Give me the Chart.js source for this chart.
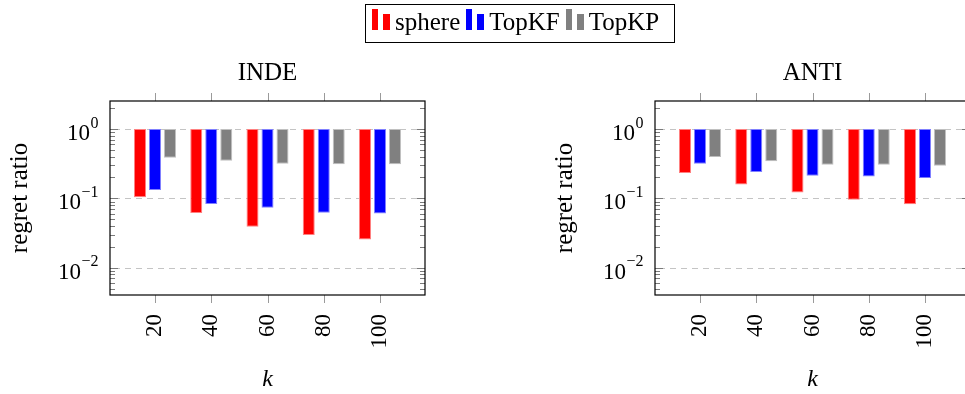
<!DOCTYPE html>
<html>
<head>
<meta charset="utf-8">
<script src="https://cdn.jsdelivr.net/npm/chart.js@4.4.0/dist/chart.umd.min.js"></script>
<style>
html,body{margin:0;padding:0;width:965px;height:394px;overflow:hidden;background:#fff;}
#wrap{position:relative;width:965px;height:394px;overflow:hidden;}
canvas{position:absolute;top:0;}
#c1{left:0;}
#c2{left:545px;}
#legend{position:absolute;left:365px;top:4px;width:310px;height:39px;box-sizing:border-box;border:1px solid #000;
  padding:2.5px 0 0 6px;font-family:'Liberation Serif';font-size:25px;line-height:28px;white-space:nowrap;color:#000;}
.bar{display:inline-block;vertical-align:baseline;}
</style>
</head>
<body>
<div id="wrap">
  <canvas id="c1" width="535" height="394"></canvas>
  <canvas id="c2" width="535" height="394"></canvas>
  <div id="legend"></div>
</div>
<script>
// ---- data ----
const categories = [20, 40, 60, 80, 100];
const seriesNames = ['sphere', 'TopKF', 'TopKP'];
const seriesColors = ['#ff0000', '#0000ff', '#808080'];
const seriesBorders = ['#ff8080', '#8080ff', '#c0c0c0'];

const indeSphere = [0.104, 0.0614, 0.039, 0.0296, 0.0256];
const indeTopKF  = [0.132, 0.0828, 0.0733, 0.062, 0.0607];
const indeTopKP  = [0.385, 0.349, 0.316, 0.309, 0.309];

const antiSphere = [0.232, 0.159, 0.121, 0.0957, 0.0819];
const antiTopKF  = [0.316, 0.240, 0.212, 0.207, 0.196];
const antiTopKP  = [0.394, 0.342, 0.306, 0.306, 0.296];

const yTickValues = [0.01, 0.1, 1];
const yMin = 0.00404, yMax = 2.534;
const xMin = 4, xMax = 116;
const barBase = 1;

// ---- legend (HTML) ----
const legend = document.getElementById('legend');
seriesNames.forEach((name, i) => {
  const b1 = document.createElement('span');
  b1.className = 'bar';
  b1.style.cssText = `width:6px;height:21px;background:${seriesColors[i]};margin-left:${i === 0 ? 0 : 6}px;`;
  const b2 = document.createElement('span');
  b2.className = 'bar';
  b2.style.cssText = `width:7px;height:16px;background:${seriesColors[i]};margin-left:5px;`;
  const t = document.createElement('span');
  t.textContent = name;
  t.style.marginLeft = '5px';
  legend.appendChild(b1); legend.appendChild(b2); legend.appendChild(t);
});

// ---- plugin: frame, ticks, grid, y labels ----
const FONT = 'Liberation Serif';
const framePlugin = {
  id: 'pgfFrame',
  beforeDatasetsDraw(chart) {
    const {ctx, chartArea: a, scales: {y}} = chart;
    ctx.save();
    ctx.strokeStyle = '#c4c4c4';
    ctx.lineWidth = 1;
    ctx.setLineDash([6, 5]);
    yTickValues.forEach(v => {
      const py = Math.round(y.getPixelForValue(v)) + 0.5;
      ctx.beginPath(); ctx.moveTo(a.left + 4, py); ctx.lineTo(a.right, py); ctx.stroke();
    });
    ctx.restore();
  },
  afterDraw(chart) {
    const {ctx, chartArea: a, scales: {x, y}} = chart;
    ctx.save();
    // y ticks (inside, both sides), major + minor
    ctx.strokeStyle = '#7a7a7a';
    ctx.lineWidth = 1;
    for (let e = -3; e <= 0; e++) {
      for (let m = 1; m <= 9; m++) {
        const v = m * Math.pow(10, e);
        if (v < y.min || v > y.max) continue;
        const py = Math.round(y.getPixelForValue(v)) + 0.5;
        const len = m === 1 ? 8 : 5;
        ctx.beginPath();
        ctx.moveTo(a.left, py); ctx.lineTo(a.left + len, py);
        ctx.moveTo(a.right - len, py); ctx.lineTo(a.right, py);
        ctx.stroke();
      }
    }
    // x ticks (outside, top and bottom)
    ctx.strokeStyle = '#9a9a9a';
    categories.forEach(k => {
      const px = Math.round(x.getPixelForValue(k)) + 0.5;
      ctx.beginPath();
      ctx.moveTo(px, a.top - 8); ctx.lineTo(px, a.top);
      ctx.moveTo(px, a.bottom); ctx.lineTo(px, a.bottom + 8);
      ctx.stroke();
    });
    // frame
    ctx.strokeStyle = '#000';
    ctx.lineWidth = 1.2;
    ctx.strokeRect(a.left, a.top, a.right - a.left, a.bottom - a.top);
    // y tick labels 10^e
    ctx.fillStyle = '#000';
    ctx.textBaseline = 'alphabetic';
    ctx.textAlign = 'left';
    yTickValues.forEach(v => {
      const e = Math.round(Math.log10(v));
      const expStr = e === 0 ? '0' : '\u2212' + Math.abs(e);
      const py = y.getPixelForValue(v);
      ctx.font = `23px '${FONT}'`;
      const wBase = ctx.measureText('10').width;
      ctx.font = `16px '${FONT}'`;
      const wExp = ctx.measureText(expStr).width;
      const right = a.left - 12;
      const x0 = right - wExp - wBase;
      ctx.font = `23px '${FONT}'`;
      ctx.fillText('10', x0, py + 11);
      ctx.font = `16px '${FONT}'`;
      ctx.fillText(expStr, x0 + wBase + 0.5, py - 1.5);
    });
    ctx.restore();
  }
};

function makeChart(id, title, vals) {
  const datasets = vals.map((arr, i) => ({
    label: seriesNames[i],
    data: categories.map((k, j) => ({x: k, y: [arr[j], barBase]})),
    backgroundColor: seriesColors[i],
    borderColor: seriesBorders[i],
    borderWidth: 1,
    borderSkipped: false,
    categoryPercentage: 0.8,
    barPercentage: 0.8
  }));
  return new Chart(document.getElementById(id), {
    type: 'bar',
    data: {datasets},
    plugins: [framePlugin],
    options: {
      responsive: false,
      animation: false,
      events: [],
      layout: {padding: 0},
      plugins: {
        legend: {display: false},
        tooltip: {enabled: false},
        title: {
          display: true,
          text: title,
          color: '#000',
          font: {family: FONT, size: 25, weight: 'normal', lineHeight: 1.2},
          padding: {top: 58, bottom: 13}
        }
      },
      scales: {
        x: {
          type: 'linear',
          position: 'bottom',
          min: xMin, max: xMax,
          offset: false,
          grid: {display: false, drawTicks: false, offset: false},
          border: {display: false},
          ticks: {
            autoSkip: false, minRotation: 90, maxRotation: 90, padding: 19,
            color: '#000', font: {family: FONT, size: 23},
            callback: v => String(v)
          },
          afterBuildTicks: s => { s.ticks = categories.map(v => ({value: v})); },
          afterFit: s => { s.height = 99; },
          title: {
            display: true, text: 'k', color: '#000',
            font: {family: FONT, size: 24, style: 'italic', lineHeight: 1.2},
            padding: {top: 0, bottom: 0}
          }
        },
        y: {
          type: 'logarithmic',
          position: 'left',
          min: yMin, max: yMax,
          bounds: 'data',
          grid: {display: false, drawTicks: false},
          border: {display: false},
          ticks: {display: false},
          afterBuildTicks: s => { s.ticks = yTickValues.map(v => ({value: v})); },
          afterFit: s => { s.width = 110; },
          title: {
            display: true, text: 'regret ratio', color: '#000',
            font: {family: FONT, size: 25, lineHeight: 1.2},
            padding: {top: 5, bottom: 0}
          }
        },
        yR: {
          type: 'logarithmic',
          position: 'right',
          min: yMin, max: yMax,
          bounds: 'data',
          grid: {display: false, drawTicks: false},
          border: {display: false},
          ticks: {display: false},
          afterFit: s => { s.width = 110; }
        }
      }
    }
  });
}

makeChart('c1', 'INDE', [indeSphere, indeTopKF, indeTopKP]);
makeChart('c2', 'ANTI', [antiSphere, antiTopKF, antiTopKP]);
</script>
</body>
</html>
